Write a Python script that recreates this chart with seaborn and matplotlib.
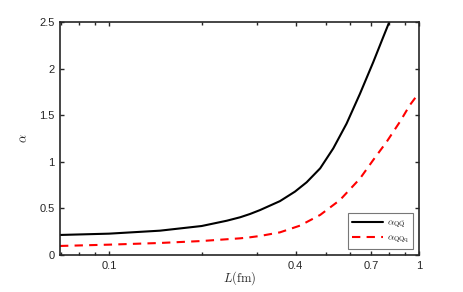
import numpy as np
import pandas as pd
import seaborn as sns
import matplotlib
matplotlib.use("Agg")
import matplotlib.pyplot as plt
from matplotlib.ticker import FixedLocator, FixedFormatter, LogLocator, NullFormatter

# Data
L_qqbar = [0.0695, 0.1, 0.146, 0.199, 0.24, 0.265, 0.285, 0.307, 0.356, 0.398, 0.434,
           0.48, 0.529, 0.584, 0.645, 0.712, 0.767, 0.802]
a_qqbar = [0.215, 0.229, 0.261, 0.311, 0.368, 0.405, 0.44, 0.482, 0.578, 0.68, 0.78,
           0.93, 1.144, 1.41, 1.73, 2.07, 2.34, 2.5]
L_qqq = [0.0695, 0.1, 0.146, 0.199, 0.265, 0.285, 0.307, 0.356, 0.413, 0.48, 0.556,
         0.645, 0.712, 0.787, 0.868, 0.935, 1.0]
a_qqq = [0.097, 0.111, 0.129, 0.150, 0.179, 0.19, 0.204, 0.243, 0.315, 0.43, 0.59,
         0.82, 1.02, 1.216, 1.43, 1.61, 1.74]

xticks = [0.1, 0.4, 0.7, 1]
xticklabels = ["0.1", "0.4", "0.7", "1"]
yticks = [0, 0.5, 1, 1.5, 2, 2.5]
yticklabels = ["0", "0.5", "1", "1.5", "2", "2.5"]

sns.set_style("ticks")
plt.rcParams["font.family"] = ["Liberation Sans", "DejaVu Sans"]
plt.rcParams["mathtext.fontset"] = "cm"

df1 = pd.DataFrame({"L": L_qqbar, "alpha": a_qqbar})
df2 = pd.DataFrame({"L": L_qqq, "alpha": a_qqq})

fig = plt.figure(figsize=(4.63, 2.92), dpi=100)
ax = fig.add_axes([60/463, 37/292, 359/463, 233/292])

sns.lineplot(data=df1, x="L", y="alpha", ax=ax, color="black", lw=1.5,
             label=r"$\alpha_{\mathrm{Q\bar{Q}}}$")
sns.lineplot(data=df2, x="L", y="alpha", ax=ax, color="#ff0000", lw=1.5,
             linestyle=(0, (4, 3)), label=r"$\alpha_{\mathrm{QQq}}$")

ax.set_xscale("log")
ax.set_xlim(0.0695, 1.0)
ax.set_ylim(0, 2.5)
ax.xaxis.set_major_locator(FixedLocator(xticks))
ax.xaxis.set_major_formatter(FixedFormatter(xticklabels))
ax.xaxis.set_minor_locator(LogLocator(base=10, subs=np.arange(2, 10) * 1.0))
ax.xaxis.set_minor_formatter(NullFormatter())
ax.set_yticks(yticks)
ax.set_yticklabels(yticklabels)

ax.tick_params(which="both", direction="in", top=True, right=True, labelsize=8,
               width=1, length=3, pad=4)
ax.tick_params(which="minor", length=2.2)
for s in ax.spines.values():
    s.set_linewidth(1.2)

ax.set_xlabel(r"$L(\mathrm{fm})$", fontsize=9, labelpad=-1)
ax.set_ylabel(r"$\alpha$", fontsize=9, labelpad=6)

leg = ax.legend(loc="lower right", fontsize=7, frameon=True, fancybox=False,
                handlelength=3.2, borderpad=0.4, labelspacing=0.3,
                handletextpad=0.4, borderaxespad=0.6)
leg.get_frame().set_edgecolor("#555555")
leg.get_frame().set_linewidth(0.8)

fig.savefig("out.png", dpi=100)
